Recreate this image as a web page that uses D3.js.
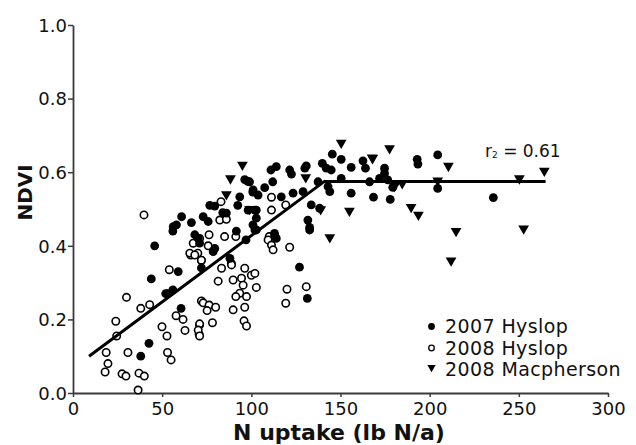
<!DOCTYPE html>
<html>
<head>
<meta charset="utf-8">
<script src="https://cdn.jsdelivr.net/npm/d3@7"></script>
<style>
  html, body { margin: 0; padding: 0; background: #fff; }
  svg { display: block; font-family: "DejaVu Sans", sans-serif; }
</style>
</head>
<body>
<svg id="chart" width="636" height="445"></svg>
<script>
// ---- data ----
const hyslop2007 = [
  [45.8,0.40],[56,0.44],[43.9,0.31],[59,0.33],[72,0.34],[52,0.27],[56,0.28],[42.6,0.135],[38,0.10],[60.6,0.23],
  [96.3,0.58],[98,0.575],[100.8,0.546],[93.5,0.533],[92.4,0.51],[76.7,0.51],[79.5,0.508],[84,0.49],[86,0.489],
  [102.8,0.497],[60.9,0.479],[56.2,0.452],[58,0.457],[66.4,0.463],[73,0.479],[75.8,0.466],[68.3,0.43],[70.2,0.42],
  [79.5,0.393],[91.6,0.44],[97,0.416],[102,0.443],[127,0.342],[131.4,0.257],[132.7,0.443],
  [145.4,0.649],[150.4,0.635],[162.6,0.631],[164,0.611],[156,0.613],[139.8,0.624],[142,0.611],[144.8,0.606],
  [130.8,0.617],[130,0.611],[114,0.615],[111,0.606],[121.5,0.606],[122.5,0.595],[112,0.574],[107.5,0.558],
  [99,0.574],[101,0.552],[103.8,0.538],[116.8,0.533],[123.4,0.543],[129,0.547],[137.4,0.574],[143,0.561],
  [150.4,0.583],[144,0.547],[133.6,0.511],[138.3,0.502],[156,0.543],[166.3,0.574],[168.5,0.532],[131.7,0.47],
  [132.7,0.45],[102,0.497],[102.8,0.475],[100.9,0.457],[102.8,0.443],[113,0.434],
  [193,0.635],[193.4,0.622],[204.5,0.647],[174.7,0.611],[174.7,0.597],[171.9,0.583],[176.5,0.579],[179.3,0.559],
  [204.5,0.556],[177.9,0.526],[235.7,0.531],
  [71,0.407],[78.6,0.384],[88,0.366],[98.2,0.497],[113.1,0.429],[114,0.42]
];
const hyslop2008 = [
  [66,0.375],[70,0.38],[72,0.36],[54,0.335],[53,0.27],[30,0.26],[38,0.23],[43,0.24],[24,0.195],[24.5,0.155],
  [18.6,0.11],[19.6,0.08],[18,0.057],[27.5,0.052],[29.7,0.046],[37,0.054],[40,0.046],[36.5,0.008],[30.8,0.11],
  [57.8,0.21],[61.7,0.20],[62.8,0.17],[49.9,0.18],[52.7,0.155],[53,0.11],[55,0.09],[72,0.25],[71,0.185],[70.7,0.16],
  [83,0.52],[82.3,0.47],[86,0.472],[39.8,0.484],[71,0.42],[76.3,0.43],[75.8,0.40],[85,0.425],[91.3,0.425],
  [121.5,0.396],[130.8,0.289],[120,0.282],[119.3,0.244],[81.4,0.304],[89.8,0.307],[94.5,0.312],[96.3,0.339],
  [100,0.32],[102,0.325],[95.4,0.293],[102.8,0.287],[93.5,0.271],[97.3,0.262],[91.3,0.262],[73,0.245],[76.3,0.239],
  [80,0.233],[75.2,0.224],[89.8,0.226],[96.3,0.233],[78.2,0.191],[95.9,0.196],[97.3,0.182],[71,0.188],[70.2,0.171],
  [71,0.155],[88.8,0.352],[111.3,0.532],[111.3,0.497],[119.3,0.511],[110,0.425],
  [67.4,0.407],[65.5,0.38],[68.3,0.375],[72,0.361],[88.9,0.348],[83.3,0.339],[109.4,0.416],[111.3,0.402],[112.2,0.389]
];
const macpherson2008 = [
  [95,0.62],[88.3,0.583],[86,0.54],[99,0.50],[150.4,0.68],[167.8,0.64],[130.5,0.586],[138.9,0.499],[155,0.495],
  [144,0.423],[177.5,0.665],[168,0.638],[210.5,0.617],[180.3,0.5625],[184.6,0.57],[204.5,0.577],[189.6,0.505],
  [193.7,0.484],[264.3,0.604],[250.3,0.583],[252.7,0.447],[214.8,0.44],[212,0.36]
];
const fitX = [9, 141, 265];
const fitY = [0.10, 0.575, 0.575];
const xTicks = [0, 50, 100, 150, 200, 250, 300];
const yTicks = [0, 0.2, 0.4, 0.6, 0.8, 1.0];
const seriesNames = ["2007 Hyslop", "2008 Hyslop", "2008 Macpherson"];
const xTitle = "N uptake (lb N/a)";
const yTitle = "NDVI";

// ---- drawing ----
const svg = d3.select("#chart");
const x = d3.scaleLinear().domain([0, 300]).range([73, 608]);
const y = d3.scaleLinear().domain([0, 1]).range([393, 25]);
const axisColor = "#3a3a3a";

// axes
const gx = svg.append("g").attr("transform", `translate(0,${y(0)})`)
  .call(d3.axisBottom(x).tickValues(xTicks).tickSize(4).tickSizeOuter(0).tickPadding(3).tickFormat(d3.format("d")));
const gy = svg.append("g").attr("transform", `translate(${x(0)},0)`)
  .call(d3.axisLeft(y).tickValues(yTicks).tickSize(5).tickSizeOuter(0).tickPadding(1).tickFormat(d3.format(".1f")));
[gx, gy].forEach(g => {
  g.select(".domain").attr("stroke", axisColor).attr("stroke-width", 1.8);
  g.selectAll(".tick line").attr("stroke", axisColor).attr("stroke-width", 1.5);
  g.selectAll(".tick text").attr("fill", "#111").style("font-size", "18px")
    .style("font-family", '"DejaVu Sans", sans-serif');
});
gx.selectAll(".tick text").attr("dy", "0.85em");
gy.selectAll(".tick text").attr("dy", "0.35em");

// axis titles
svg.append("text").attr("x", 339).attr("y", 440).attr("text-anchor", "middle")
  .style("font-size", "22px").style("font-weight", "bold").attr("fill", "#111").text(xTitle);
svg.append("text").attr("transform", `translate(32,${y(0.545)}) rotate(-90)`).attr("text-anchor", "middle")
  .style("font-size", "20px").style("font-weight", "bold").attr("fill", "#111").text(yTitle);

// points
const gp = svg.append("g");
gp.selectAll("circle.open").data(hyslop2008).enter().append("circle")
  .attr("class", "open").attr("cx", d => x(d[0])).attr("cy", d => y(d[1])).attr("r", 3.7)
  .attr("fill", "#fff").attr("stroke", "#000").attr("stroke-width", 1.6);
gp.selectAll("circle.filled").data(hyslop2007).enter().append("circle")
  .attr("class", "filled").attr("cx", d => x(d[0])).attr("cy", d => y(d[1])).attr("r", 4.4)
  .attr("fill", "#000");
const tri = d3.symbol().type(d3.symbolTriangle).size(50);
gp.selectAll("path.tri").data(macpherson2008).enter().append("path")
  .attr("class", "tri").attr("d", tri)
  .attr("transform", d => `translate(${x(d[0])},${y(d[1])}) rotate(180)`).attr("fill", "#000");

// fitted line
const fit = fitX.map((v, i) => [v, fitY[i]]);
svg.append("path").datum(fit)
  .attr("d", d3.line().x(d => x(d[0])).y(d => y(d[1])))
  .attr("fill", "none").attr("stroke", "#000").attr("stroke-width", 3);

// r2 label
const r2 = svg.append("text").attr("x", 485).attr("y", 157).style("font-size", "17px").attr("fill", "#111");
r2.append("tspan").text("r");
r2.append("tspan").style("font-size", "9px").attr("dy", 1).text("2");
r2.append("tspan").attr("dy", -1).text(" = 0.61");

// legend
const lg = svg.append("g");
const ly = [326.5, 348, 369.5];
lg.append("circle").attr("cx", 431.5).attr("cy", ly[0]).attr("r", 3.4).attr("fill", "#000");
lg.append("circle").attr("cx", 431.5).attr("cy", ly[1]).attr("r", 2.8).attr("fill", "#fff")
  .attr("stroke", "#000").attr("stroke-width", 1.3);
lg.append("path").attr("d", d3.symbol().type(d3.symbolTriangle).size(30))
  .attr("transform", `translate(431.5,${ly[2] - 2}) rotate(180)`).attr("fill", "#000");
seriesNames.forEach((n, i) => {
  lg.append("text").attr("x", 445).attr("y", ly[i]).attr("dy", "0.36em")
    .style("font-size", "19px").style("letter-spacing", "0.4px").attr("fill", "#111").text(n);
});
</script>
</body>
</html>
